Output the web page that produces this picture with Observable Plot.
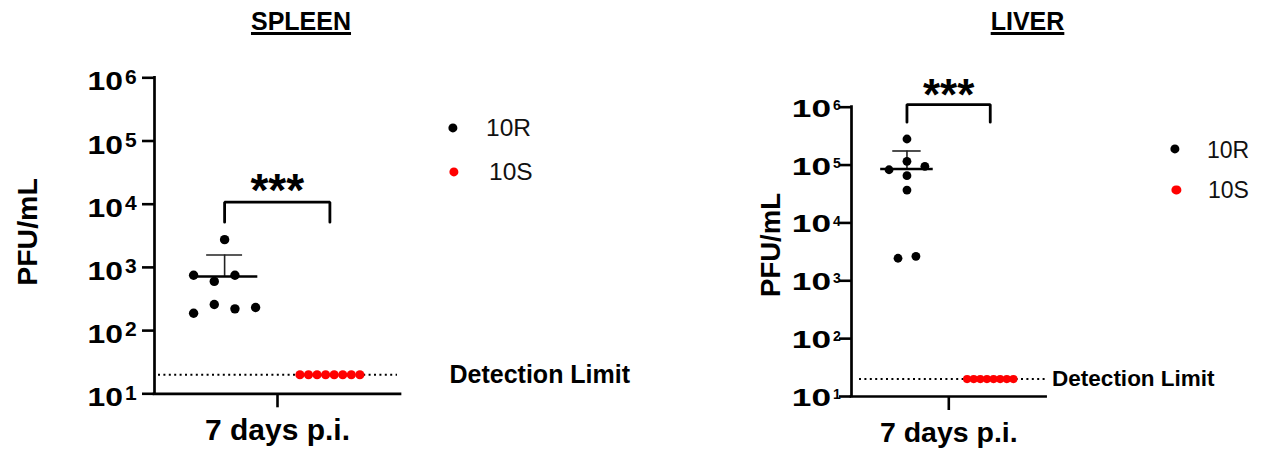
<!DOCTYPE html>
<html>
<head>
<meta charset="utf-8">
<script src="https://cdn.jsdelivr.net/npm/d3@7"></script>
<script src="https://cdn.jsdelivr.net/npm/@observablehq/plot@0.6"></script>
<style>
html, body { margin: 0; padding: 0; background: #fff; }
#root { position: relative; width: 1263px; height: 452px; overflow: hidden;
  font-family: "Liberation Sans", Arial, Helvetica, sans-serif; color: #000; }
.panel { position: absolute; top: 0; }
.title { position: absolute; font-weight: bold; line-height: 1; white-space: nowrap;
  transform: translateX(-50%); text-decoration: underline; text-decoration-thickness: 3px;
  text-underline-offset: 2px; }
.legtext { position: absolute; line-height: 1; white-space: nowrap; transform: translateY(-50%); color: #111; }
.legdot { position: absolute; border-radius: 50%; transform: translate(-50%, -50%); }
svg text { font-family: "Liberation Sans", Arial, Helvetica, sans-serif; }
</style>
</head>
<body>
<div id="root"></div>
<script>
// ---------- data ----------
const groups = ["10R", "10S"];
const groupColors = ["#000000", "#ff0000"];
const xLabel = "7 days p.i.";
const yTicks = [1e1, 1e2, 1e3, 1e4, 1e5, 1e6];
const yTickBase = "10";
const yTickExponents = ["1", "2", "3", "4", "5", "6"];
const detectionLimit = 20;
const detectionLabel = "Detection Limit";
const significance = "***";
const panelTitles = ["SPLEEN", "LIVER"];
const yLabel = "PFU/mL";

const spleen10R = [2750, 750, 750, 600, 188, 259, 221, 232];
const spleen10RSlot = [0, -3, 1, -1, -3, -1, 1, 3];
const spleen10S = [20, 20, 20, 20, 20, 20, 20, 20];

const liver10R = [282000, 116000, 83000, 95000, 65600, 37000, 2450, 2650];
const liver10RSlot = [0, 0, -2, 2, 0, 0, -1, 1];
const liver10S = [20, 20, 20, 20, 20, 20, 20, 20];

// ---------- layout / style ----------
const groupX = {"10R": 0.285, "10S": 0.713};
const panels = [
  {title: panelTitles[0], r: spleen10R, rSlot: spleen10RSlot, s: spleen10S,
   left: 0, width: 640, mL: 154, mR: 240, mT: 77.3, mB: 58.7,
   slot: 0.042, redSlot: 0.0348, rDot: 4.7, rRed: 4.6,
   bracketTop: 10770, bracketFoot: 5190, starFs: 46, starDy: -10.9,
   baseX: 123, baseDy: 13, baseFs: 25.5, stretch: 1.25, expFs: 21, expDy: -6.7, expGap: 2,
   yLabX: 27, yLabY: 232, yLabFs: 28.5, xFs: 30, xPad: 11, detFs: 25, detDx: 49,
   insetL: 4, insetR: 3, titleX: 301, titleBase: 30, titleFs: 25,
   leg: {x: 452.5, ys: [127.7, 171.7], tx: [486, 489], fs: 24.5, r: 4.6}},
  {title: panelTitles[1], r: liver10R, rSlot: liver10RSlot, s: liver10S,
   left: 640, width: 623, mL: 211, mR: 217.4, mT: 106.7, mB: 56,
   slot: 0.046, redSlot: 0.034, rDot: 4.4, rRed: 4.1,
   bracketTop: 1.11e6, bracketFoot: 5.5e5, starFs: 44, starDy: -8.7,
   baseX: 191, baseDy: 10, baseFs: 23.5, stretch: 1.5, expFs: 14, expDy: -6.9, expGap: 2,
   yLabX: 130, yLabY: 245, yLabFs: 27.5, xFs: 28.5, xPad: 11.6, detFs: 22.5, detDx: 6,
   insetL: 8, insetR: 0, titleX: 1027.5, titleBase: 30, titleFs: 25,
   leg: {x: 1175, ys: [149.3, 190], tx: [1207, 1208], fs: 23, r: 4.6}}
];

const root = document.getElementById("root");

for (const p of panels) {
  const g1 = groupX[groups[0]], g2 = groupX[groups[1]];
  const black = p.r.map((v, i) => ({x: g1 + p.rSlot[i] * p.slot, y: v}));
  const red = p.s.map((v, i) => ({x: g2 + (i - (p.s.length - 1) / 2) * p.redSlot, y: v}));
  const mean = d3.mean(p.r);
  const sd = d3.deviation(p.r);
  const bracket = [
    {x: g1, y: p.bracketFoot}, {x: g1, y: p.bracketTop},
    {x: g2, y: p.bracketTop}, {x: g2, y: p.bracketFoot}
  ];

  const plot = Plot.plot({
    width: p.width, height: 452,
    marginLeft: p.mL, marginRight: p.mR, marginTop: p.mT, marginBottom: p.mB,
    style: {background: "transparent", overflow: "visible", fontFamily: "Liberation Sans, Arial, sans-serif", fontSize: "20px", color: "#000"},
    x: {domain: [0, 1]},
    y: {type: "log", domain: [10, 1e6]},
    marks: [
      Plot.ruleY([detectionLimit], {stroke: "#000", strokeWidth: 2, strokeDasharray: "2,3.4", insetLeft: p.insetL, insetRight: p.insetR}),
      Plot.axisY({ticks: yTicks, tickSize: 12, tickFormat: () => "", strokeWidth: 2.6, label: null}),
      Plot.axisX({ticks: [0.5], tickSize: 14, tickPadding: p.xPad, tickFormat: () => xLabel,
        fontSize: p.xFs, fontWeight: "bold", strokeWidth: 2.6, label: null}),
      Plot.ruleX([0], {stroke: "#000", strokeWidth: 2.7, strokeLinecap: "square"}),
      Plot.ruleY([10], {stroke: "#000", strokeWidth: 2.7, strokeLinecap: "square"}),
      Plot.text([detectionLabel], {y: () => detectionLimit, frameAnchor: "right", textAnchor: "start",
        dx: p.detDx, text: d => d, fontSize: p.detFs, fontWeight: "bold", fill: "#000"}),
      Plot.line(bracket, {x: "x", y: "y", stroke: "#000", strokeWidth: 2.8, strokeLinejoin: "miter"}),
      Plot.text([significance], {x: () => (g1 + g2) / 2, y: () => p.bracketTop, text: d => d,
        fontSize: p.starFs, fontWeight: "bold", dy: p.starDy, fill: "#000"}),
      Plot.ruleX([mean], {x: () => g1, y1: mean, y2: mean + sd, stroke: "#222", strokeWidth: 1.6}),
      Plot.ruleY([mean + sd], {x1: g1 - 0.073, x2: g1 + 0.073, stroke: "#222", strokeWidth: 1.6}),
      Plot.ruleY([mean], {x1: g1 - 0.135, x2: g1 + 0.135, stroke: "#000", strokeWidth: 2.6}),
      Plot.dot(red, {x: "x", y: "y", r: p.rRed, fill: groupColors[1], stroke: "none"}),
      Plot.dot(black, {x: "x", y: "y", r: p.rDot, fill: groupColors[0], stroke: "none"})
    ]
  });

  // y tick labels ("10" with superscript exponent) positioned through Plot's y scale
  const sy = plot.scale("y");
  const svg = d3.select(plot);
  const lab = svg.append("g").attr("aria-label", "y tick labels").attr("font-weight", "bold").attr("fill", "#000");
  const baseLen = 1.112 * p.baseFs * p.stretch;          // stretched width of "10"
  const anchorX = p.baseX + p.expGap + 0.556 * p.expFs;   // right edge of the exponent
  yTicks.forEach((t, i) => {
    const py = sy.apply(t);
    const txt = lab.append("text")
      .attr("x", anchorX).attr("y", py + p.baseDy)
      .attr("text-anchor", "end");
    txt.append("tspan").attr("font-size", p.baseFs)
      .attr("textLength", baseLen).attr("lengthAdjust", "spacingAndGlyphs")
      .text(yTickBase);
    txt.append("tspan").attr("font-size", p.expFs)
      .attr("dx", p.expGap).attr("dy", p.expDy)
      .text(yTickExponents[i]);
  });
  svg.append("text")
    .attr("transform", `translate(${p.yLabX},${p.yLabY}) rotate(-90)`)
    .attr("text-anchor", "middle").attr("dominant-baseline", "central")
    .attr("font-size", p.yLabFs).attr("font-weight", "bold").attr("fill", "#000").text(yLabel);

  const wrap = document.createElement("div");
  wrap.className = "panel";
  wrap.style.left = p.left + "px";
  wrap.appendChild(plot);
  root.appendChild(wrap);

  // title
  const t = document.createElement("div");
  t.className = "title";
  t.textContent = p.title;
  t.style.fontSize = p.titleFs + "px";
  t.style.left = p.titleX + "px";
  t.style.top = (p.titleBase - 0.8465 * p.titleFs) + "px";
  root.appendChild(t);

  // legend
  groups.forEach((gname, i) => {
    const d = document.createElement("div");
    d.className = "legdot";
    d.style.left = (p.leg.x + i * 1.4) + "px";
    d.style.top = p.leg.ys[i] + "px";
    d.style.width = d.style.height = (2 * p.leg.r) + "px";
    d.style.background = groupColors[i];
    root.appendChild(d);
    const tx = document.createElement("div");
    tx.className = "legtext";
    tx.textContent = gname;
    tx.style.left = p.leg.tx[i] + "px";
    tx.style.top = (p.leg.ys[i] + 0.012 * p.leg.fs) + "px";
    tx.style.fontSize = p.leg.fs + "px";
    root.appendChild(tx);
  });
}
</script>
</body>
</html>
